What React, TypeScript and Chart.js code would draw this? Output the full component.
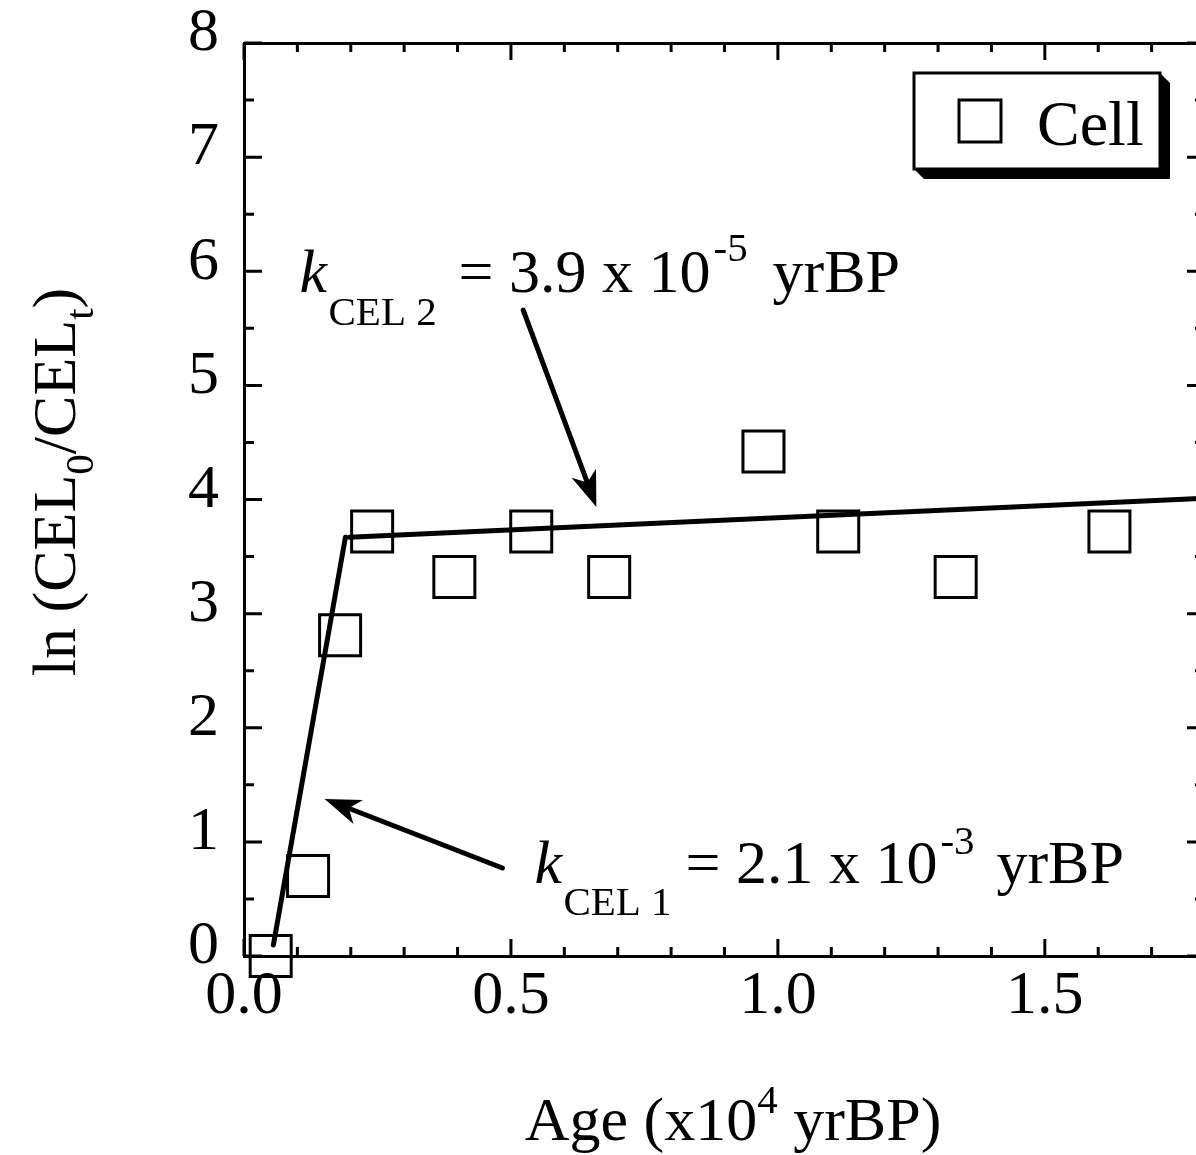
import React, { useEffect, useRef } from 'react';
import { Chart, registerables } from 'chart.js';

Chart.register(...registerables);

const FONT = '"Liberation Serif", "Times New Roman", Times, serif';

// Data (Age in x10^4 yrBP, ln(CEL0/CELt))
const cellAge = [0.050, 0.120, 0.180, 0.240, 0.394, 0.538, 0.684, 0.973, 1.113, 1.333, 1.621];
const cellLn = [0.00, 0.70, 2.81, 3.72, 3.32, 3.72, 3.32, 4.42, 3.72, 3.32, 3.72];

// Fitted lines
const fit1Age = [0.055, 0.190];
const fit1Ln = [0.096, 3.67];
const fit2Age = [0.197, 1.80];
const fit2Ln = [3.67, 4.01];

// Axis ranges / ticks
const xMin = 0;
const xMax = 1.8;
const xMajorStep = 0.5;
const xMinorStep = 0.1;
const yMin = 0;
const yMax = 8;
const yMajorStep = 1;
const yMinorStep = 0.5;

// Arrow annotations (data coordinates): [tailX, tailY, tipX, tipY]
const arrow1 = [0.484, 0.771, 0.151, 1.376];
const arrow2 = [0.523, 5.66, 0.660, 3.935];

// Annotation anchors (data coordinates)
const label1Anchor = [0.544, 0.64];
const label2Anchor = [0.104, 5.82];

type Part = { t: string; size: number; italic?: boolean; dx: number; dy: number };

const label1Parts: Part[] = [
  { t: 'k', size: 62, italic: true, dx: 0, dy: 0 },
  { t: 'CEL 1', size: 41, dx: 29, dy: 32 },
  { t: '= 2.1 x 10', size: 62, dx: 151, dy: 0 },
  { t: '-3', size: 41, dx: 406, dy: -29 },
  { t: 'yrBP', size: 62, dx: 462, dy: 0 },
];

const label2Parts: Part[] = [
  { t: 'k', size: 62, italic: true, dx: 0, dy: 0 },
  { t: 'CEL 2', size: 41, dx: 29, dy: 33 },
  { t: '= 3.9 x 10', size: 62, dx: 159, dy: 0 },
  { t: '-5', size: 41, dx: 414, dy: -31 },
  { t: 'yrBP', size: 62, dx: 473, dy: 0 },
];

function drawParts(ctx: CanvasRenderingContext2D, x: number, y: number, parts: Part[]) {
  ctx.save();
  ctx.fillStyle = '#000';
  ctx.textBaseline = 'alphabetic';
  ctx.textAlign = 'left';
  for (const p of parts) {
    ctx.font = `${p.italic ? 'italic ' : ''}${p.size}px ${FONT}`;
    ctx.fillText(p.t, x + p.dx, y + p.dy);
  }
  ctx.restore();
}

function drawArrow(ctx: CanvasRenderingContext2D, x1: number, y1: number, x2: number, y2: number) {
  const ang = Math.atan2(y2 - y1, x2 - x1);
  const headLen = 36;
  const headHalf = 13;
  const ux = Math.cos(ang), uy = Math.sin(ang);
  const px = -uy, py = ux;
  ctx.save();
  ctx.strokeStyle = '#000';
  ctx.fillStyle = '#000';
  ctx.lineWidth = 5;
  ctx.lineCap = 'round';
  ctx.beginPath();
  ctx.moveTo(x1, y1);
  ctx.lineTo(x2 - ux * headLen * 0.6, y2 - uy * headLen * 0.6);
  ctx.stroke();
  ctx.beginPath();
  ctx.moveTo(x2, y2);
  ctx.lineTo(x2 - ux * headLen + px * headHalf, y2 - uy * headLen + py * headHalf);
  ctx.lineTo(x2 - ux * headLen * 0.72, y2 - uy * headLen * 0.72);
  ctx.lineTo(x2 - ux * headLen - px * headHalf, y2 - uy * headLen - py * headHalf);
  ctx.closePath();
  ctx.fill();
  ctx.restore();
}

const decorPlugin = {
  id: 'decor',
  afterDraw(chart: any) {
    const ctx: CanvasRenderingContext2D = chart.ctx;
    const xs = chart.scales.x;
    const ys = chart.scales.y;
    const ca = chart.chartArea;

    // inward tick marks on all four sides
    ctx.save();
    ctx.strokeStyle = '#000';
    ctx.lineWidth = 3;
    ctx.lineCap = 'butt';
    const nx = Math.round((xMax - xMin) / xMinorStep);
    for (let i = 0; i <= nx; i++) {
      const v = xMin + i * xMinorStep;
      const px = xs.getPixelForValue(v);
      const major = Math.abs(v / xMajorStep - Math.round(v / xMajorStep)) < 1e-6;
      const L = major ? 17 : 9;
      ctx.beginPath();
      ctx.moveTo(px, ca.bottom);
      ctx.lineTo(px, ca.bottom - L);
      ctx.moveTo(px, ca.top);
      ctx.lineTo(px, ca.top + L);
      ctx.stroke();
    }
    const ny = Math.round((yMax - yMin) / yMinorStep);
    for (let i = 0; i <= ny; i++) {
      const v = yMin + i * yMinorStep;
      const py = ys.getPixelForValue(v);
      const major = Math.abs(v / yMajorStep - Math.round(v / yMajorStep)) < 1e-6;
      const L = major ? 18 : 10;
      ctx.beginPath();
      ctx.moveTo(ca.left, py);
      ctx.lineTo(ca.left + L, py);
      ctx.moveTo(ca.right, py);
      ctx.lineTo(ca.right - L, py);
      ctx.stroke();
    }
    ctx.restore();

    // arrows
    for (const a of [arrow1, arrow2]) {
      drawArrow(
        ctx,
        xs.getPixelForValue(a[0]),
        ys.getPixelForValue(a[1]),
        xs.getPixelForValue(a[2]),
        ys.getPixelForValue(a[3])
      );
    }

    // annotation texts
    drawParts(ctx, xs.getPixelForValue(label1Anchor[0]), ys.getPixelForValue(label1Anchor[1]), label1Parts);
    drawParts(ctx, xs.getPixelForValue(label2Anchor[0]), ys.getPixelForValue(label2Anchor[1]), label2Parts);

    // x-axis title: Age (x10^4 yrBP)
    ctx.save();
    ctx.fillStyle = '#000';
    ctx.textBaseline = 'alphabetic';
    const big = `62px ${FONT}`;
    const small = `41px ${FONT}`;
    ctx.font = big;
    const w1 = ctx.measureText('Age (x10').width;
    const w3 = ctx.measureText(' yrBP)').width;
    ctx.font = small;
    const w2 = ctx.measureText('4').width;
    const total = w1 + w2 + w3;
    const cx = 733;
    const by = ca.bottom + 184;
    let x = cx - total / 2;
    ctx.font = big;
    ctx.fillText('Age (x10', x, by);
    x += w1;
    ctx.font = small;
    ctx.fillText('4', x, by - 27);
    x += w2;
    ctx.font = big;
    ctx.fillText(' yrBP)', x, by);
    ctx.restore();

    // y-axis title: ln (CEL0/CELt)
    ctx.save();
    ctx.fillStyle = '#000';
    ctx.textBaseline = 'alphabetic';
    const yParts: [string, boolean][] = [
      ['ln (CEL', false],
      ['0', true],
      ['/CEL', false],
      ['t', true],
      [')', false],
    ];
    let tw = 0;
    const widths: number[] = [];
    for (const [t, sub] of yParts) {
      ctx.font = sub ? small : big;
      const w = ctx.measureText(t).width;
      widths.push(w);
      tw += w;
    }
    const centerY = 482;
    ctx.translate(75, centerY);
    ctx.rotate(-Math.PI / 2);
    let tx = -tw / 2;
    yParts.forEach(([t, sub], i) => {
      ctx.font = sub ? small : big;
      ctx.fillText(t, tx, sub ? 18 : 0);
      tx += widths[i];
    });
    ctx.restore();

    // legend box with shadow
    ctx.save();
    const lx = 914, ly = 73, lw = 246, lh = 96, sh = 10;
    ctx.fillStyle = '#000';
    ctx.beginPath();
    ctx.moveTo(lx + lw, ly);
    ctx.lineTo(lx + lw + sh, ly + sh);
    ctx.lineTo(lx + lw + sh, ly + lh + sh);
    ctx.lineTo(lx + sh, ly + lh + sh);
    ctx.lineTo(lx, ly + lh);
    ctx.closePath();
    ctx.fill();
    ctx.fillStyle = '#fff';
    ctx.fillRect(lx, ly, lw, lh);
    ctx.strokeStyle = '#000';
    ctx.lineWidth = 3;
    ctx.strokeRect(lx, ly, lw, lh);
    ctx.lineWidth = 3;
    ctx.strokeRect(959, 100, 42, 42);
    ctx.fillStyle = '#000';
    ctx.font = `64px ${FONT}`;
    ctx.textBaseline = 'alphabetic';
    ctx.fillText('Cell', 1037, 145);
    ctx.restore();
  },
};

function zeroPadding(s: any) {
  s.paddingTop = 0;
  s.paddingBottom = 0;
  s.paddingLeft = 0;
  s.paddingRight = 0;
}

const CANVAS_W = 1215;
const CANVAS_H = 1155;

export default function App() {
  const ref = useRef<HTMLCanvasElement>(null);

  useEffect(() => {
    document.body.style.margin = '0';
    document.body.style.overflow = 'hidden';
    const canvas = ref.current;
    if (!canvas) return;

    const cellData = cellAge.map((x, i) => ({ x, y: cellLn[i] }));
    const fit1Data = fit1Age.map((x, i) => ({ x, y: fit1Ln[i] }));
    const fit2Data = fit2Age.map((x, i) => ({ x, y: fit2Ln[i] }));

    const tickFont = { family: FONT, size: 62 };

    const chart = new Chart(canvas, {
      type: 'scatter',
      data: {
        datasets: [
          {
            label: 'Cell',
            data: cellData,
            pointStyle: 'rect',
            pointRadius: 29,
            pointHoverRadius: 29,
            pointBorderWidth: 3,
            borderColor: '#000',
            backgroundColor: 'rgba(0,0,0,0)',
            pointBackgroundColor: 'rgba(0,0,0,0)',
            showLine: false,
            clip: false as any,
          },
          {
            label: 'fit1',
            data: fit1Data,
            showLine: true,
            borderColor: '#000',
            borderWidth: 5,
            borderCapStyle: 'round',
            pointRadius: 0,
            pointHoverRadius: 0,
            fill: false,
          },
          {
            label: 'fit2',
            data: fit2Data,
            showLine: true,
            borderColor: '#000',
            borderWidth: 5,
            borderCapStyle: 'round',
            pointRadius: 0,
            pointHoverRadius: 0,
            fill: false,
          },
        ],
      },
      options: {
        responsive: false,
        maintainAspectRatio: false,
        animation: false,
        devicePixelRatio: 1,
        layout: { padding: 0, autoPadding: false },
        plugins: {
          legend: { display: false },
          tooltip: { enabled: false },
        },
        scales: {
          x: {
            type: 'linear',
            position: 'bottom',
            min: xMin,
            max: xMax,
            grid: { display: false, drawTicks: false },
            border: { display: true, color: '#000', width: 3 },
            ticks: {
              stepSize: xMajorStep,
              includeBounds: false,
              color: '#000',
              font: tickFont,
              padding: 4,
              maxRotation: 0,
              autoSkip: false,
              callback: (v: any) => Number(v).toFixed(1),
            },
            afterFit: (s: any) => {
              s.height = 199;
              zeroPadding(s);
            },
          },
          x2: {
            type: 'linear',
            position: 'top',
            min: xMin,
            max: xMax,
            grid: { display: false, drawTicks: false },
            border: { display: true, color: '#000', width: 3 },
            ticks: { display: false },
            afterFit: (s: any) => {
              s.height = 43;
              zeroPadding(s);
            },
          },
          y: {
            type: 'linear',
            position: 'left',
            min: yMin,
            max: yMax,
            grid: { display: false, drawTicks: false },
            border: { display: true, color: '#000', width: 3 },
            ticks: {
              stepSize: yMajorStep,
              color: '#000',
              font: tickFont,
              padding: 25,
              labelOffset: -9,
              autoSkip: false,
              callback: (v: any) => String(Math.round(Number(v))),
            },
            afterFit: (s: any) => {
              s.width = 244;
              zeroPadding(s);
            },
          },
          y2: {
            type: 'linear',
            position: 'right',
            min: yMin,
            max: yMax,
            grid: { display: false, drawTicks: false },
            border: { display: true, color: '#000', width: 3 },
            ticks: { display: false },
            afterFit: (s: any) => {
              s.width = 10;
              zeroPadding(s);
            },
          },
        },
      } as any,
      plugins: [decorPlugin],
    });

    return () => chart.destroy();
  }, []);

  return (
    <div style={{ width: 1196, height: 1155, overflow: 'hidden', background: '#fff' }}>
      <div style={{ width: CANVAS_W, height: CANVAS_H }}>
        <canvas
          ref={ref}
          width={CANVAS_W}
          height={CANVAS_H}
          style={{ display: 'block', width: CANVAS_W, height: CANVAS_H }}
        />
      </div>
    </div>
  );
}
